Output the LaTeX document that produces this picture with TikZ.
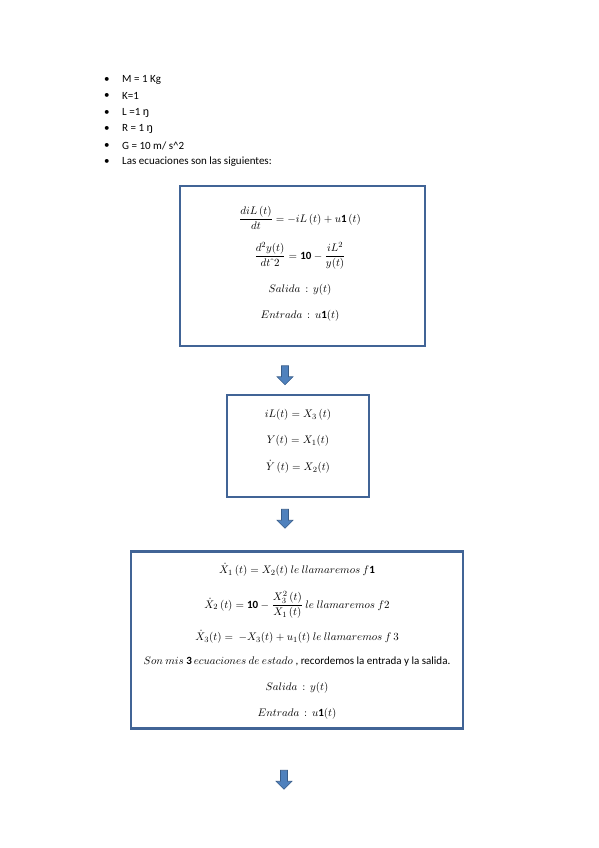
\documentclass[tikz,border=0pt]{standalone}
\usepackage{fontspec}
\setmainfont{Carlito}
\usepackage{amsmath}
\usetikzlibrary{shapes.arrows}

\definecolor{frameblue}{RGB}{65,100,150}
\definecolor{arrowfill}{RGB}{79,129,189}
\definecolor{arrowline}{RGB}{56,93,138}

\tikzset{
  eqbox/.style={draw=frameblue, line width=2.4pt, inner sep=0pt},
  downarrow/.style={single arrow, draw=arrowline, fill=arrowfill, line width=0.6pt,
    shape border rotate=270, minimum height=19pt, inner sep=3.2pt,
    single arrow head extend=4.5pt, single arrow head indent=0pt},
  eq/.style={inner sep=0pt, font=\fontsize{11}{13}\selectfont},
  item/.style={anchor=west, inner sep=0pt, font=\fontsize{11}{13}\selectfont},
}

\begin{document}
\begin{tikzpicture}[x=1pt, y=-1pt]
  \useasboundingbox[fill=white] (0,0) rectangle (599,848);

  % datos
  \foreach \txt [count=\i] in {M = 1 Kg, K=1, L =1 {\large ŋ}, R = 1 {\large ŋ},
      G = 10 m/ s\textasciicircum2, Las ecuaciones son las siguientes:} {
    \node[item] (dot\i) at (104, 63.5+16.4*\i) {\textbullet};
    \node[item] (item\i) at (122, 63.5+16.4*\i) {\txt};
  }

  % modelo
  \node[eqbox, minimum width=245pt, minimum height=160pt] (box1) at (302.5,266) {};
  \node[eq] (eqA) at (300,218) {$\dfrac{diL\,(t)}{dt}=-iL\,(t)+u\mathbf{1}\,(t)$};
  \node[eq] (eqB) at (300,256) {$\dfrac{d^2y(t)}{dt\,\hat{}\,2}=\mathbf{10}-\dfrac{iL^2}{y(t)}$};
  \node[eq] (outA) at (300,290) {$Salida\,:\,y(t)$};
  \node[eq] (inA) at (300,316) {$Entrada\,:\,u\mathbf{1}(t)$};

  \node[downarrow] (arr1) at (285,373.5) {};

  % variables
  \node[eqbox, minimum width=142pt, minimum height=102pt] (box2) at (298,446) {};
  \node[eq] (varA) at (298,415) {$iL(t)=X_3\,(t)$};
  \node[eq] (varB) at (298,441) {$Y(t)=X_1(t)$};
  \node[eq] (varC) at (298,467) {$\dot{Y}\,(t)=X_2(t)$};

  \node[downarrow] (arr2) at (285,517) {};

  % ecuaciones de estado
  \node[eqbox, minimum width=332pt, minimum height=177pt] (box3) at (297,640) {};
  \node[eq] (fA) at (297,570) {$\dot{X}_1\,(t)=X_2(t)\ le\ llamaremos\ f\mathbf{1}$};
  \node[eq] (fB) at (297,605) {$\dot{X}_2\,(t)=\mathbf{10}-\dfrac{X_3^2\,(t)}{X_1\,(t)}\ le\ llamaremos\ f2$};
  \node[eq] (fC) at (297,637) {$\dot{X}_3(t)=\ -X_3(t)+u_1(t)\ le\ llamaremos\ f\,3$};
  \node[eq] (note) at (297,662) {$Son\ mis\ \mathbf{3}\,ecuaciones\ de\ estado$ , recordemos la entrada y la salida.};
  \node[eq] (outB) at (297,688) {$Salida\,:\,y(t)$};
  \node[eq] (inB) at (297,714) {$Entrada\,:\,u\mathbf{1}(t)$};

  \node[downarrow] (arr3) at (284,778) {};
\end{tikzpicture}
\end{document}
